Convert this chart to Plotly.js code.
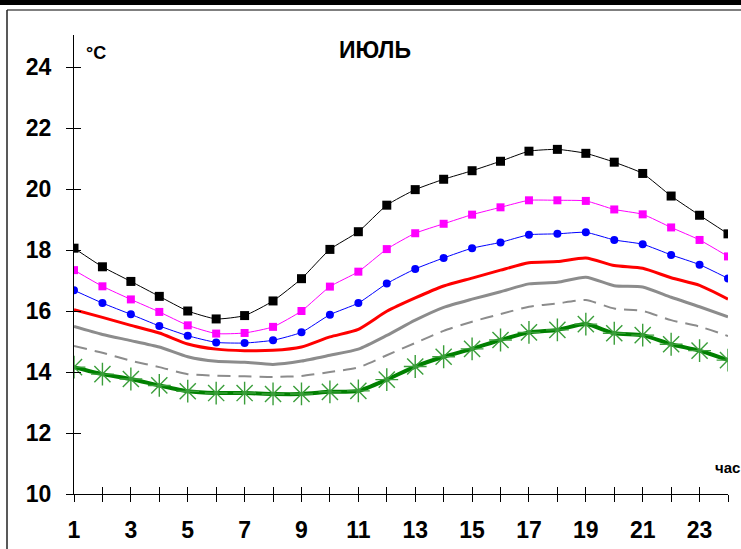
<!DOCTYPE html>
<html>
<head>
<meta charset="utf-8">
<script src="https://cdn.plot.ly/plotly-3.0.1.min.js"></script>
<style>
html,body{margin:0;padding:0;background:#fff;}
#chart{width:741px;height:549px;}
</style>
</head>
<body>
<div id="chart"></div>
<script>
// Hours of day
const hours = [1,2,3,4,5,6,7,8,9,10,11,12,13,14,15,16,17,18,19,20,21,22,23,24];
// Series values (°C)
const seriesBlack   = [18.06,17.45,16.97,16.48,16.00,15.74,15.85,16.33,17.06,18.02,18.60,19.47,19.98,20.32,20.60,20.91,21.24,21.30,21.17,20.88,20.51,19.77,19.14,18.53];
const seriesMagenta = [17.34,16.81,16.38,15.97,15.53,15.26,15.28,15.48,16.00,16.80,17.29,18.03,18.55,18.86,19.16,19.40,19.63,19.63,19.61,19.33,19.17,18.74,18.33,17.79];
const seriesBlue    = [16.68,16.26,15.89,15.51,15.19,14.97,14.95,15.04,15.30,15.88,16.26,16.90,17.38,17.74,18.06,18.25,18.50,18.53,18.58,18.33,18.19,17.84,17.52,17.07];
const seriesRed     = [16.04,15.79,15.53,15.28,14.92,14.75,14.70,14.71,14.82,15.15,15.40,15.99,16.43,16.82,17.08,17.34,17.58,17.62,17.74,17.49,17.40,17.09,16.84,16.39];
const seriesGray    = [15.49,15.23,15.03,14.82,14.50,14.35,14.32,14.25,14.36,14.55,14.75,15.20,15.70,16.12,16.39,16.63,16.89,16.94,17.11,16.83,16.79,16.45,16.14,15.81];
const seriesDashed  = [14.85,14.63,14.37,14.16,13.93,13.88,13.86,13.84,13.87,14.00,14.15,14.55,14.95,15.35,15.65,15.90,16.14,16.25,16.36,16.08,16.00,15.70,15.49,15.18];
const seriesGreen   = [14.16,13.93,13.77,13.56,13.37,13.31,13.31,13.28,13.28,13.35,13.38,13.75,14.18,14.50,14.76,15.05,15.30,15.38,15.57,15.27,15.21,14.91,14.70,14.39];
// Tick labels
const xTickVals = hours;
const xTickText = ['1','','3','','5','','7','','9','','11','','13','','15','','17','','19','','21','','23',''];
const yTickVals = [10,12,14,16,18,20,22,24];
const yTickText = ['10','12','14','16','18','20','22','24'];
const titleText = 'ИЮЛЬ';
const unitText = '°C';
const xUnitText = 'час';

const FONT = 'Liberation Sans, Arial, sans-serif';

const traces = [
  {x: hours, y: seriesGray, mode:'lines', line:{color:'#8c8c8c', width:3, shape:'spline', smoothing:0.6}},
  {x: hours, y: seriesDashed, mode:'lines', line:{color:'#8c8c8c', width:2, dash:'13px,8px', shape:'spline', smoothing:0.6}},
  {x: hours, y: seriesRed, mode:'lines', line:{color:'#ff0000', width:3, shape:'spline', smoothing:0.6}},
  {x: hours, y: seriesBlue, mode:'lines+markers', line:{color:'#0000ff', width:1, shape:'spline', smoothing:0.5},
   marker:{symbol:'circle', size:8, color:'#0000ff'}},
  {x: hours, y: seriesMagenta, mode:'lines+markers', line:{color:'#ff00ff', width:1, shape:'spline', smoothing:0.5},
   marker:{symbol:'square', size:8, color:'#ff00ff'}},
  {x: hours, y: seriesBlack, mode:'lines+markers', line:{color:'#000000', width:1, shape:'spline', smoothing:0.5},
   marker:{symbol:'square', size:9, color:'#000000'}},
  {x: hours, y: seriesGreen, mode:'lines+markers', line:{color:'#008000', width:4, shape:'spline', smoothing:0.6},
   marker:{symbol:'asterisk-open', size:19, color:'#3a9e3a', line:{color:'#3a9e3a', width:1.4}}},
  // invisible trace to anchor the overlay axes (inside ticks)
  {x: [hours[0]], y: [yTickVals[0]], xaxis:'x2', yaxis:'y2', mode:'markers', marker:{opacity:0}, hoverinfo:'skip'}
];

const L = 74, R = 728, T = 35, B = 494, W = 741, H = 549;
const px = v => (v - L) / (R - L);
const py = v => (B - v) / (B - T);

const layout = {
  width: W, height: H,
  margin: {l: L, r: W - R, t: T, b: H - B, pad: 0},
  paper_bgcolor: '#ffffff',
  plot_bgcolor: '#ffffff',
  showlegend: false,
  font: {family: FONT, color: '#000'},
  title: {text: titleText, font:{family: FONT, size: 23, weight: 'bold', color:'#000'},
          x: px(375), xref: 'paper', xanchor: 'center', y: 1 - 50/H, yref:'container', yanchor:'middle'},
  xaxis: {range:[1,24], tickvals: xTickVals, ticktext: xTickText, ticks:'outside', ticklen:7, tickwidth:1, tickcolor:'#000',
          showline:true, linecolor:'#000', linewidth:1, showgrid:false, zeroline:false,
          tickfont:{family: FONT, size: 23, weight:'bold', color:'#000'}, ticklabelstandoff: 8},
  yaxis: {range:[10, 25.05], tickvals: yTickVals, ticktext: yTickText, ticks:'outside', ticklen:7, tickwidth:1, tickcolor:'#000',
          showline:true, linecolor:'#000', linewidth:1, showgrid:false, zeroline:false,
          tickfont:{family: FONT, size: 23, weight:'bold', color:'#000'}, ticklabelstandoff: 10},
  xaxis2: {range:[1,24], overlaying:'x', tickvals: xTickVals, ticks:'inside', ticklen:7, tickwidth:1, tickcolor:'#000',
           showticklabels:false, showline:false, showgrid:false, zeroline:false},
  yaxis2: {range:[10, 25.05], overlaying:'y', tickvals: yTickVals, ticks:'inside', ticklen:7, tickwidth:1, tickcolor:'#000',
           showticklabels:false, showline:false, showgrid:false, zeroline:false},
  annotations: [
    {text: unitText, xref:'paper', yref:'paper', x: px(84), y: py(53), xanchor:'left', yanchor:'middle', showarrow:false,
     font:{family: FONT, size: 18, weight:'bold', color:'#000'}},
    {text: xUnitText, xref:'paper', yref:'paper', x: px(713), y: py(467), xanchor:'left', yanchor:'middle', showarrow:false,
     font:{family: FONT, size: 15, weight:'bold', color:'#000'}}
  ],
  shapes: [
    {type:'rect', xref:'paper', yref:'paper', x0: px(0), x1: px(W), y0: py(0), y1: py(5), fillcolor:'#000', line:{width:0}, layer:'above'},
    {type:'line', xref:'paper', yref:'paper', x0: px(7), x1: px(W), y0: py(10), y1: py(10), line:{color:'#555', width:1.5}},
    {type:'line', xref:'paper', yref:'paper', x0: px(7), x1: px(7), y0: py(10), y1: py(H), line:{color:'#222', width:1.5}}
  ]
};

Plotly.newPlot('chart', traces, layout, {displayModeBar:false, staticPlot:true});
</script>
</body>
</html>
